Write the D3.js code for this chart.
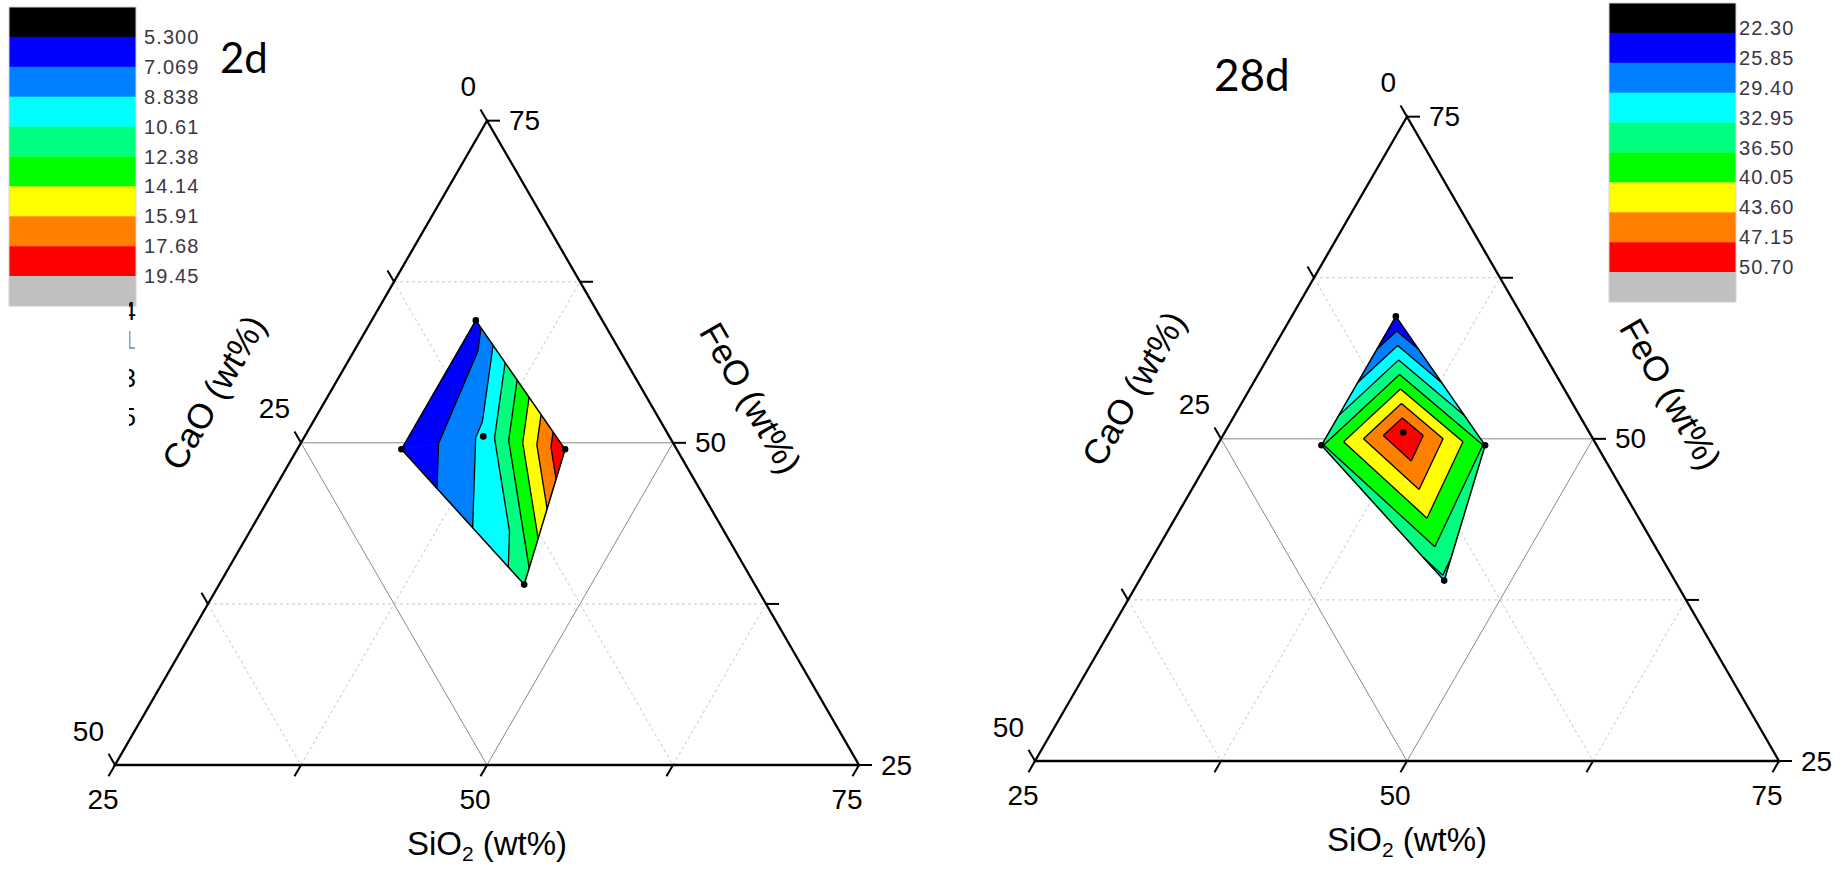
<!DOCTYPE html>
<html>
<head>
<meta charset="utf-8">
<script src="https://cdn.jsdelivr.net/npm/d3@7"></script>
<style>
  body { margin: 0; background: #fff; }
  svg { display: block; }
</style>
</head>
<body>
<svg id="chart" width="1841" height="869"></svg>
<script>
// sample compositions (wt%), order: top, left, centre, right, bottom
const sio2 = [32, 32, 37, 43, 45.5];
const cao  = [8.5, 18.5, 12.5, 7.5, 15.5];
const feo  = [59.5, 49.5, 50.5, 49.5, 39];

// measured value at each sample
const values2d  = [6.3, 5.3, 9.2, 19.45, 11.4];
const values28d = [22.3, 36.1, 50.7, 36.1, 32.3];

// contour levels
const levels2d  = [5.3, 7.069, 8.838, 10.61, 12.38, 14.14, 15.91, 17.68, 19.45];
const labels2d  = ["5.300", "7.069", "8.838", "10.61", "12.38", "14.14", "15.91", "17.68", "19.45"];
const levels28d = [22.3, 25.85, 29.4, 32.95, 36.5, 40.05, 43.6, 47.15, 50.7];
const labels28d = ["22.30", "25.85", "29.40", "32.95", "36.50", "40.05", "43.60", "47.15", "50.70"];
const bandColors = ["#000000", "#0000ff", "#0080ff", "#00ffff", "#00ff80", "#00ff00", "#ffff00", "#ff8000", "#ff0000", "#c0c0c0"];

// axis ticks
const siTicks = [25, 37.5, 50, 62.5, 75], siLabels = [25, 50, 75];
const caTicks = [0, 12.5, 25, 37.5, 50],  caLabels = [0, 25, 50];
const feTicks = [25, 37.5, 50, 62.5, 75], feLabels = [25, 50, 75];

const panels = [
  { name: "2d",  values: values2d,  levels: levels2d,  labels: labels2d,
    x0: 115, y0: 765, side: 744, legX: 9, legY: 7, legPad: 8, legShift: 0,
    nameX: 220, nameY: 73, nameSize: 42 },
  { name: "28d", values: values28d, levels: levels28d, labels: labels28d,
    x0: 1035, y0: 761, side: 744, legX: 1609, legY: 3, legPad: 3, legShift: -5,
    nameX: 1214, nameY: 91, nameSize: 44 }
];

const svg = d3.select("#chart");
const SQ3 = Math.sqrt(3);
const TICK = 13;
const axisFont = "'Liberation Sans', Arial, sans-serif";

// clip a polygon (points [x, y, v]) against v >= level or v <= level
function clipPoly(poly, level, above) {
  const out = [];
  for (let i = 0; i < poly.length; i++) {
    const a = poly[i], b = poly[(i + 1) % poly.length];
    const ina = above ? a[2] >= level : a[2] <= level;
    const inb = above ? b[2] >= level : b[2] <= level;
    if (ina) out.push(a);
    if (ina !== inb) {
      const t = (level - a[2]) / (b[2] - a[2]);
      out.push([a[0] + t * (b[0] - a[0]), a[1] + t * (b[1] - a[1]), level]);
    }
  }
  return out;
}

function drawPanel(p) {
  const g = svg.append("g");
  const H = p.side * SQ3 / 2;
  const sx = d3.scaleLinear().domain([25, 75]).range([0, p.side]);
  const fy = d3.scaleLinear().domain([25, 75]).range([p.y0, p.y0 - H]);
  const proj = (si, fe) => [p.x0 + sx(si) + (p.y0 - fy(fe)) / SQ3, fy(fe)];
  const line = d3.line();

  // grid
  const grid = g.append("g").attr("fill", "none");
  const gridLine = (a, b, major) => grid.append("path")
    .attr("d", line([a, b]))
    .attr("stroke", major ? "#8a8a8a" : "#c8c8c8")
    .attr("stroke-width", 1)
    .attr("stroke-dasharray", major ? null : "3,3");
  siTicks.slice(1, -1).forEach(v => gridLine(proj(v, 25), proj(v, 100 - v), siLabels.includes(v)));
  caTicks.slice(1, -1).forEach(v => gridLine(proj(25, 75 - v), proj(75 - v, 25), caLabels.includes(v)));
  feTicks.slice(1, -1).forEach(v => gridLine(proj(25, v), proj(100 - v, v), feLabels.includes(v)));

  // triangulated contour fill
  const pts = sio2.map((s, i) => proj(s, feo[i]));
  const delaunay = d3.Delaunay.from(pts);
  const tris = [];
  for (let i = 0; i < delaunay.triangles.length; i += 3) {
    tris.push([0, 1, 2].map(k => {
      const j = delaunay.triangles[i + k];
      return [pts[j][0], pts[j][1], p.values[j]];
    }));
  }
  const fills = g.append("g");
  tris.forEach(tri => {
    bandColors.forEach((c, k) => {
      let poly = tri;
      if (k > 0) poly = clipPoly(poly, p.levels[k - 1], true);
      if (k < p.levels.length && poly.length) poly = clipPoly(poly, p.levels[k], false);
      if (poly.length < 3) return;
      if (Math.abs(d3.polygonArea(poly.map(q => [q[0], q[1]]))) < 0.3) return;
      fills.append("path")
        .attr("d", line(poly.map(q => [q[0], q[1]])) + "Z")
        .attr("fill", c)
        .attr("stroke", c)
        .attr("stroke-width", 0.7)
        .attr("stroke-linejoin", "round");
    });
  });

  // contour lines
  const lines = g.append("g").attr("stroke", "#000").attr("stroke-width", 1.3).attr("fill", "none");
  tris.forEach(tri => {
    p.levels.forEach(L => {
      const seg = [];
      for (let e = 0; e < 3; e++) {
        const a = tri[e], b = tri[(e + 1) % 3];
        if ((a[2] > L) !== (b[2] > L)) {
          const t = (L - a[2]) / (b[2] - a[2]);
          seg.push([a[0] + t * (b[0] - a[0]), a[1] + t * (b[1] - a[1])]);
        }
      }
      if (seg.length === 2 && Math.hypot(seg[0][0] - seg[1][0], seg[0][1] - seg[1][1]) > 0.5) {
        lines.append("path").attr("d", line(seg));
      }
    });
  });

  // hull outline
  g.append("path")
    .attr("d", delaunay.renderHull())
    .attr("fill", "none")
    .attr("stroke", "#000")
    .attr("stroke-width", 1.5);

  // sample points
  g.append("g").selectAll("circle")
    .data(pts)
    .join("circle")
    .attr("cx", d => d[0])
    .attr("cy", d => d[1])
    .attr("r", 3.3)
    .attr("fill", "#000");

  // frame
  g.append("path")
    .attr("d", line([proj(25, 25), proj(75, 25), proj(25, 75)]) + "Z")
    .attr("fill", "none")
    .attr("stroke", "#000")
    .attr("stroke-width", 2.3);

  // ticks
  const ticks = g.append("g").attr("stroke", "#000").attr("stroke-width", 2);
  const tick = (pt, dx, dy) => ticks.append("path").attr("d", line([pt, [pt[0] + dx * TICK, pt[1] + dy * TICK]]));
  siTicks.forEach(v => tick(proj(v, 25), -0.5, SQ3 / 2));
  caTicks.forEach(v => tick(proj(25, 75 - v), -0.5, -SQ3 / 2));
  feTicks.forEach(v => tick(proj(100 - v, v), 1, 0));

  // tick labels
  const tl = g.append("g").attr("font-family", axisFont).attr("font-size", 28).attr("fill", "#000")
    .attr("dominant-baseline", "central");
  siLabels.forEach(v => {
    const pt = proj(v, 25);
    tl.append("text").attr("x", pt[0] - 12).attr("y", pt[1] + 34).attr("text-anchor", "middle").text(v);
  });
  caLabels.forEach(v => {
    const pt = proj(25, 75 - v);
    tl.append("text").attr("x", pt[0] - 11).attr("y", pt[1] - 34).attr("text-anchor", "end").text(v);
  });
  feLabels.forEach(v => {
    const pt = proj(100 - v, v);
    tl.append("text").attr("x", pt[0] + 22).attr("y", pt[1]).attr("text-anchor", "start").text(v);
  });

  // axis titles
  const titles = g.append("g").attr("font-family", axisFont).attr("fill", "#000")
    .attr("text-anchor", "middle").attr("dominant-baseline", "central");
  const si = titles.append("text").attr("x", p.x0 + p.side / 2).attr("y", p.y0 + 78).attr("font-size", 33);
  si.append("tspan").text("SiO");
  si.append("tspan").attr("font-size", 21).attr("dy", 10).text("2");
  si.append("tspan").attr("dy", -10).text(" (wt%)");

  const mL = proj(25, 50), mR = proj(50, 50);
  titles.append("text")
    .attr("font-size", 35)
    .attr("transform", `translate(${mL[0] - 101 * SQ3 / 2},${mL[1] - 101 / 2}) rotate(-60)`)
    .text("CaO (wt%)");
  titles.append("text")
    .attr("font-size", 35)
    .attr("transform", `translate(${mR[0] + 90 * SQ3 / 2},${mR[1] - 90 / 2}) rotate(60)`)
    .text("FeO (wt%)");

  // legend
  const legH = 299, legW = 127;
  const ly = d3.scaleLinear().domain([0, bandColors.length]).range([p.legY, p.legY + legH]);
  const leg = g.append("g");
  leg.selectAll("rect")
    .data(bandColors)
    .join("rect")
    .attr("x", p.legX)
    .attr("y", (d, i) => ly(i))
    .attr("width", legW)
    .attr("height", ly(1) - ly(0) + 0.3)
    .attr("fill", d => d);
  leg.append("rect")
    .attr("x", p.legX).attr("y", p.legY).attr("width", legW).attr("height", legH)
    .attr("fill", "none").attr("stroke", "#d4d4d4").attr("stroke-width", 1);
  leg.selectAll("text")
    .data(p.labels)
    .join("text")
    .attr("x", p.legX + legW + p.legPad)
    .attr("y", (d, i) => ly(i + 1) + p.legShift)
    .attr("dominant-baseline", "central")
    .attr("font-family", axisFont)
    .attr("font-size", 20)
    .attr("letter-spacing", 1.1)
    .attr("fill", "#3b3645")
    .text(d => d);

  // panel name
  g.append("text")
    .attr("x", p.nameX).attr("y", p.nameY)
    .attr("font-family", "Lato, 'Open Sans', sans-serif")
    .attr("font-size", p.nameSize)
    .attr("fill", "#000")
    .text(p.name);
}

panels.forEach(drawPanel);

// fragments of a hidden label column peeking out under the left legend
const clip = svg.append("clipPath").attr("id", "peek");
clip.append("rect").attr("x", 129).attr("y", 290).attr("width", 8).attr("height", 150);
const peek = svg.append("g").attr("clip-path", "url(#peek)")
  .attr("font-family", axisFont).attr("font-size", 26).attr("dominant-baseline", "central");
[["4", 311, "#000"], ["1", 340, "#9a9a9a"], ["3", 378, "#000"], ["5", 417, "#000"]].forEach(d => {
  peek.append("text").attr("x", 136).attr("y", d[1]).attr("text-anchor", "end").attr("fill", d[2]).text(d[0]);
});
</script>
</body>
</html>
